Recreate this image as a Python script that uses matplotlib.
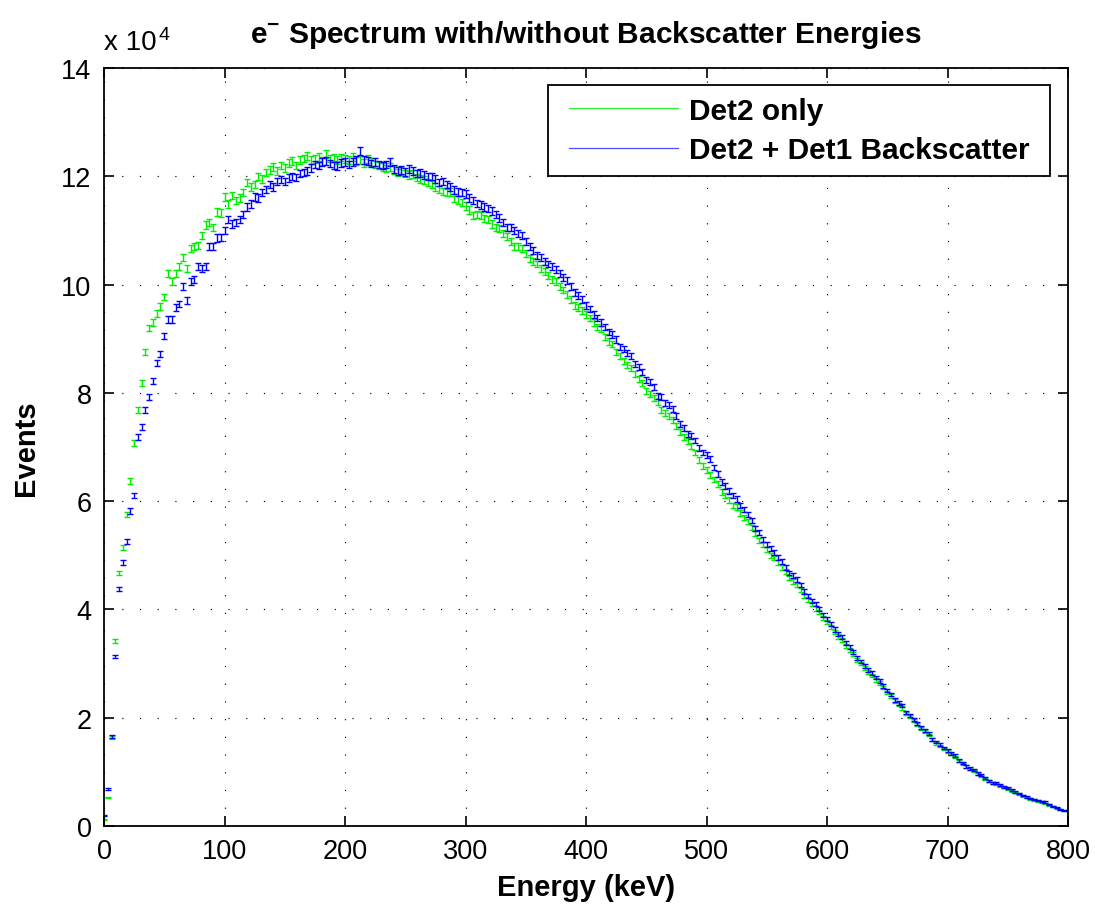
import matplotlib
matplotlib.use("Agg")
import matplotlib.pyplot as plt
import numpy as np
from matplotlib.lines import Line2D
from matplotlib.legend_handler import HandlerBase
from matplotlib.ticker import FuncFormatter

plt.rcParams["font.family"] = ["Liberation Sans", "DejaVu Sans"]
plt.rcParams["mathtext.fontset"] = "custom"
plt.rcParams["mathtext.rm"] = "Liberation Sans"
plt.rcParams["mathtext.bf"] = "Liberation Sans:bold"

# Energy binning of the spectrum (keV per channel)
bin_width_kev = 3.125

# Counts per channel, detector 2 alone
det2_only = [
    1200, 5300, 16400, 34200, 46700, 51500, 57600, 63700, 70700, 76900,
    81800, 87500, 92000, 93000, 94600, 96000, 97700, 102000, 100500, 102000,
    103300, 105000, 102900, 106600, 107100, 107300, 109000, 111000, 111500, 110500,
    113400, 113200, 116200, 114900, 116400, 115500, 116000, 117000, 118900, 118000,
    118500, 120000, 119500, 120700, 121200, 121700, 121000, 122000, 121500, 122500,
    122800, 122000, 123000, 123300, 123800, 123000, 123200, 123600, 122800, 124100,
    123300, 123500, 123000, 123500, 123200, 123000, 123600, 122800, 123000, 122500,
    123200, 122600, 122200, 122000, 121700, 121400, 121700, 121200, 120700, 121000,
    120500, 120200, 120400, 119800, 119500, 119300, 118900, 118500, 118000, 117600,
    117200, 117000, 117100, 116000, 115600, 115200, 114500, 113800, 112800, 113000,
    112800, 112200, 112000, 111200, 110500, 110300, 109500, 108800, 108000, 107100,
    107000, 106600, 105800, 104900, 104200, 103800, 102900, 102400, 101600, 101000,
    100500, 99700, 99000, 98100, 97200, 96200, 95800, 95200, 94500, 93800,
    93000, 92200, 91800, 90300, 89500, 89000, 87600, 86800, 85900, 85200,
    84600, 83500, 82500, 81800, 80400, 79800, 79000, 78300, 76800, 76200,
    75700, 75000, 73900, 72800, 71800, 71100, 70200, 69000, 67600, 66500,
    65800, 64800, 64000, 63200, 61700, 61100, 60200, 59200, 58900, 57800,
    57000, 56200, 55200, 54000, 52800, 52000, 51000, 50000, 49500, 48600,
    47800, 47000, 45800, 45200, 44500, 43600, 42600, 41800, 41000, 40200,
    39500, 38400, 37700, 36800, 35800, 35000, 34400, 33300, 32500, 31700,
    30600, 30000, 29200, 28400, 27800, 27000, 26400, 25600, 24700, 24000,
    23100, 22500, 21800, 20800, 20200, 19500, 18800, 18000, 17400, 16800,
    16000, 15300, 14800, 14200, 13800, 13300, 12700, 12000, 11500, 11000,
    10500, 10200, 9600, 9200, 8700, 8300, 7900, 7700, 7400, 7100,
    6800, 6500, 6200, 5900, 5500, 5300, 5000, 4800, 4600, 4400,
    4200, 3900, 3600, 3300, 3100, 2900,
]

# Counts per channel, detector 2 summed with detector 1 backscatter
det2_plus_det1 = [
    2000, 6800, 16500, 31300, 43800, 48700, 52500, 58200, 61000, 71800,
    73700, 76800, 79200, 82200, 85500, 87200, 90500, 93600, 93600, 95800,
    96400, 99600, 97000, 100500, 101000, 103300, 102900, 103300, 107100, 107000,
    108600, 108700, 110000, 112000, 111200, 111500, 112000, 113000, 114300, 114900,
    116200, 116000, 117000, 117600, 118500, 118000, 119000, 119400, 119000, 119700,
    120000, 119800, 120500, 120700, 121000, 121500, 122200, 122000, 122600, 122800,
    122400, 122000, 121900, 122500, 122600, 122200, 122600, 123000, 124700, 123000,
    122800, 122400, 122600, 122200, 122000, 122200, 122600, 121300, 121000, 121200,
    120800, 121300, 121000, 120500, 120600, 120200, 120000, 120000, 119500, 118900,
    119000, 118500, 118000, 117500, 117100, 117000, 116700, 116000, 115500, 115000,
    114700, 114300, 114000, 113600, 113000, 112300, 111500, 110600, 110500, 110000,
    109500, 109000, 108000, 107000, 106300, 105300, 105000, 104200, 103800, 103300,
    102800, 102000, 101300, 100700, 99700, 98500, 98000, 97200, 96200, 95500,
    94500, 93800, 93000, 92200, 91200, 90800, 89900, 88500, 88100, 87400,
    86800, 85300, 84800, 83900, 82400, 82000, 81100, 79500, 79200, 78100,
    77800, 77000, 75700, 74200, 73500, 72400, 72000, 71200, 69800, 69000,
    68500, 67800, 66200, 65000, 63500, 62800, 61900, 61000, 60400, 59200,
    58500, 57600, 56400, 55000, 54200, 53000, 52000, 51200, 50500, 49600,
    48800, 47800, 46700, 46300, 45500, 44500, 43300, 42500, 41600, 41000,
    40100, 39000, 38200, 37300, 36300, 35500, 34900, 33800, 33000, 32100,
    31000, 30400, 29600, 28800, 28300, 27400, 26800, 25900, 25000, 24300,
    23300, 22700, 22200, 21000, 20400, 19700, 19000, 18200, 17600, 17100,
    16000, 15500, 15000, 14400, 13900, 13400, 13000, 12100, 11600, 11000,
    10600, 10400, 9700, 9400, 8800, 8400, 8000, 7900, 7600, 7200,
    7000, 6600, 6300, 6000, 5600, 5400, 5100, 4900, 4700, 4500,
    4400, 4000, 3600, 3400, 3100, 2900,
]

series_labels = ["Det2 only", "Det2 + Det1 Backscatter"]
x_ticks = [0, 100, 200, 300, 400, 500, 600, 700, 800]
y_ticks = [0, 20000, 40000, 60000, 80000, 100000, 120000, 140000]

det2_only = np.array(det2_only, dtype=float)
det2_plus_det1 = np.array(det2_plus_det1, dtype=float)
energy = np.arange(len(det2_only)) * bin_width_kev

# two-sigma Poisson uncertainty on each channel
err_det2_only = 2 * np.sqrt(det2_only)
err_det2_plus_det1 = 2 * np.sqrt(det2_plus_det1)


class InsetLineHandler(HandlerBase):
    """Legend line sample that starts a little way into its handle box."""

    def __init__(self, inset=0.08):
        super().__init__()
        self.inset = inset

    def create_artists(self, legend, orig_handle, xdescent, ydescent,
                       width, height, fontsize, trans):
        x0 = -xdescent + self.inset * width
        x1 = -xdescent + width
        y = height / 2 - ydescent
        line = Line2D([x0, x1], [y, y], color=orig_handle.get_color(),
                      lw=orig_handle.get_linewidth(), transform=trans)
        return [line]


fig = plt.figure(figsize=(10.95, 9.12), dpi=100)
ax = fig.add_axes([104 / 1095, 1 - 827 / 912, 964 / 1095, 758 / 912])

green = "#00ee00"
blue = "#0000ff"
eb_kw = dict(fmt="none", elinewidth=1.0, capsize=1.9, capthick=1.0)
ax.errorbar(energy, det2_only, yerr=err_det2_only, ecolor=green, **eb_kw)
ax.errorbar(energy, det2_plus_det1, yerr=err_det2_plus_det1, ecolor=blue, **eb_kw)

ax.set_xlim(0, 800)
ax.set_ylim(0, 140000)
ax.set_xticks(x_ticks)
ax.set_yticks(y_ticks)
ax.yaxis.set_major_formatter(FuncFormatter(lambda v, p: f"{v / 1e4:g}"))

ax.grid(True, color="black", linestyle=(0, (1, 14)), linewidth=0.85)
ax.tick_params(direction="in", length=7, width=1.2, top=True, right=True,
               labelsize=19.5, pad=9)
for s in ax.spines.values():
    s.set_linewidth(1.3)

ax.set_xlabel("Energy (keV)", fontsize=21, fontweight="bold", labelpad=6)
ax.set_ylabel("Events", fontsize=21, fontweight="bold", labelpad=15)
ax.set_title(r"$\mathbf{e^{-}}$ Spectrum with/without Backscatter Energies",
             fontsize=21.5, fontweight="bold", pad=19)

fig.text(104 / 1095, 1 - 50 / 912, "x 10", fontsize=20, ha="left", va="baseline")
fig.text(159 / 1095, 1 - 40 / 912, "4", fontsize=14, ha="left", va="baseline")

handles = [Line2D([], [], color="#33ee33", lw=0.9),
           Line2D([], [], color="#4d4dff", lw=0.9)]
leg = ax.legend(handles, [lbl + " " for lbl in series_labels], loc="upper right",
                bbox_to_anchor=(0.981, 0.9776),
                prop=dict(weight="bold", size=21.5), frameon=True, fancybox=False,
                edgecolor="black", framealpha=1, handlelength=3.95,
                handletextpad=0.37, borderpad=0.4, labelspacing=0.37,
                borderaxespad=0,
                handler_map={Line2D: InsetLineHandler(inset=0.08)})
leg.get_frame().set_linewidth(1.3)

fig.savefig("out.png", dpi=100)
